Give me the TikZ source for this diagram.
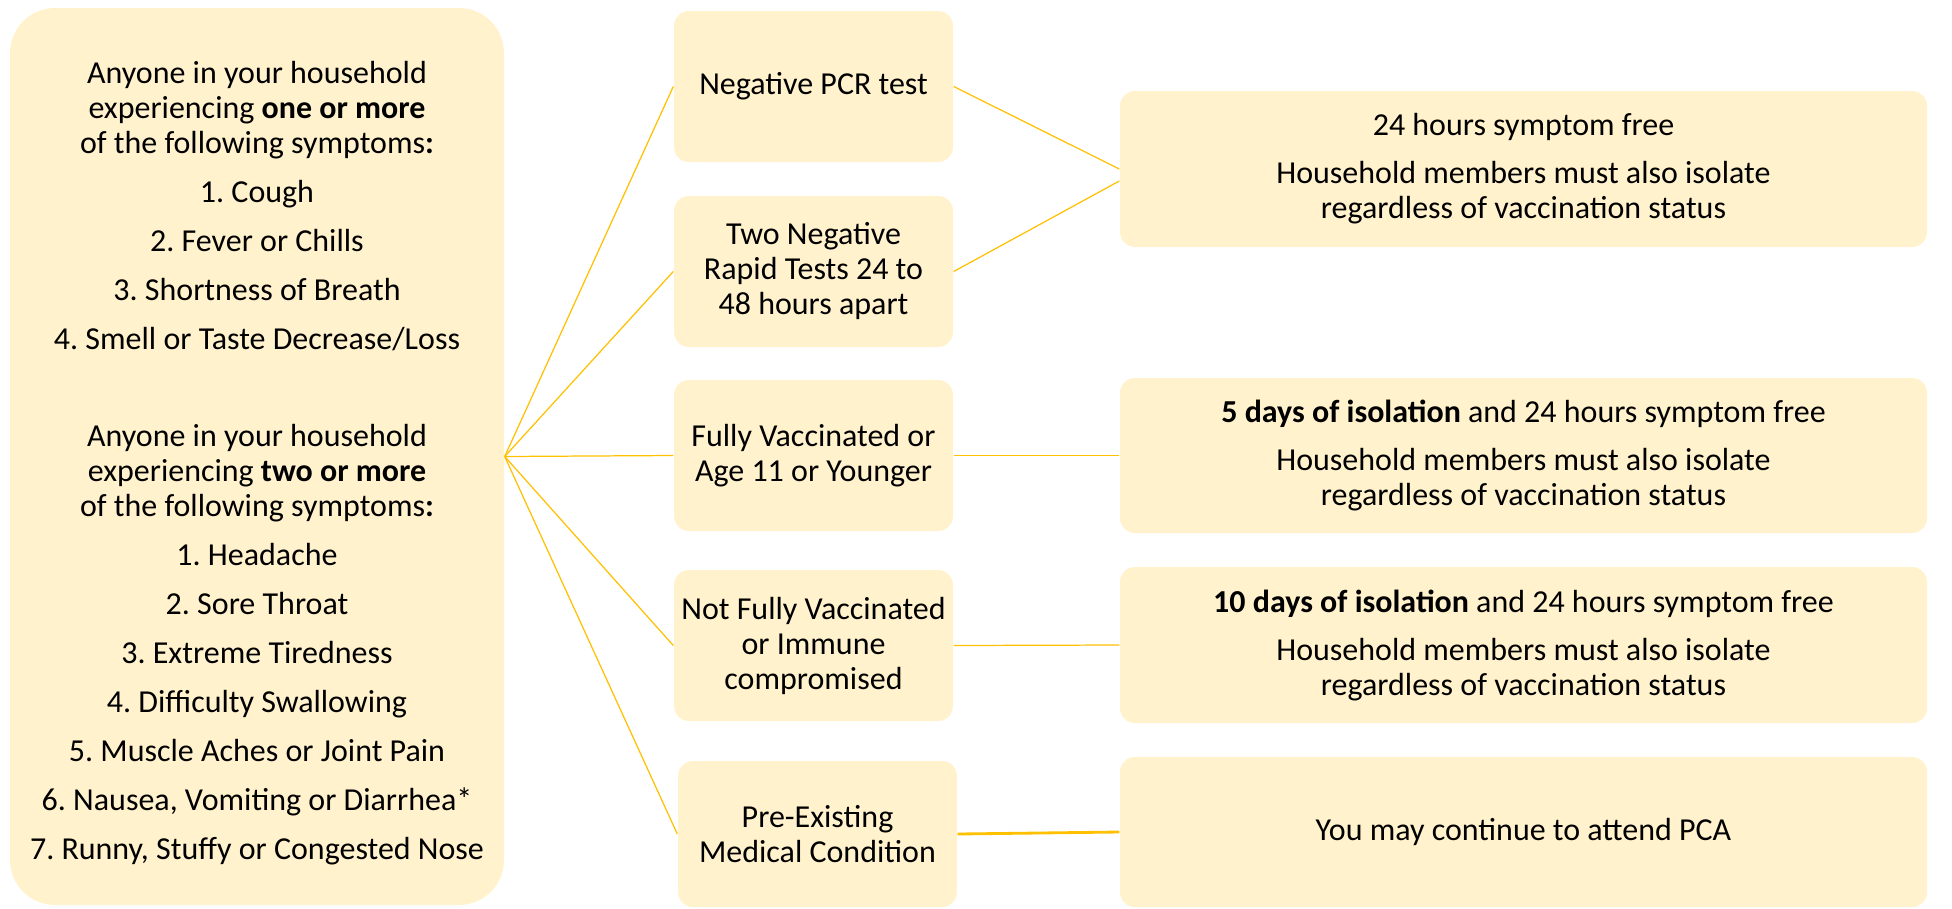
\documentclass[tikz,border=0pt]{standalone}
\usepackage{fontspec}
\setmainfont{Carlito}
\usetikzlibrary{positioning}
\definecolor{boxfill}{HTML}{FFF2CC}
\definecolor{linkgold}{HTML}{FFC000}
\frenchspacing

\begin{document}
\begin{tikzpicture}[
	every node/.style={font=\fontsize{9.1pt}{9.96pt}\selectfont},
	symptoms/.style={rectangle, fill=boxfill, rounded corners=0.45cm, minimum width=4.94cm, minimum height=8.97cm, inner sep=0pt},
	choice/.style={rectangle, fill=boxfill, rounded corners=0.15cm, minimum width=2.79cm, minimum height=1.51cm, inner sep=0pt, align=center},
	outcome/.style={rectangle, fill=boxfill, rounded corners=0.15cm, minimum width=8.07cm, minimum height=1.56cm, inner sep=0pt, align=center},
	fanline/.style={draw=linkgold, line width=0.35pt}
]
	\useasboundingbox (0,0) rectangle (19.52,9.08);

	% symptom list
	\node[symptoms] (symp) at (2.57,4.515) {};
	\node[align=center] (symptext) at (2.57,4.45) {Anyone in your household\\experiencing \textbf{one or more}\\of the following symptoms\textbf{:}\\[0.14cm]
		1. Cough\\[0.14cm]2. Fever or Chills\\[0.14cm]3. Shortness of Breath\\[0.14cm]4. Smell or Taste Decrease/Loss\\[0.62cm]
		Anyone in your household\\experiencing \textbf{two or more}\\of the following symptoms\textbf{:}\\[0.14cm]
		1. Headache\\[0.14cm]2. Sore Throat\\[0.14cm]3. Extreme Tiredness\\[0.14cm]4. Difficulty Swallowing\\[0.14cm]
		5. Muscle Aches or Joint Pain\\[0.14cm]6. Nausea, Vomiting or Diarrhea*\\[0.14cm]7. Runny, Stuffy or Congested Nose};

	% middle column
	\node[choice] (pcr) at (8.135,8.215) {Negative PCR test};
	\node[choice] (rapid) at (8.135,6.365) {Two Negative\\Rapid Tests 24 to\\48 hours apart};
	\node[choice] (vacc) at (8.135,4.525) {Fully Vaccinated or\\Age 11 or Younger};
	\node[choice] (notvacc) at (8.135,2.625) {Not Fully Vaccinated\\or Immune\\compromised};
	\node[choice, minimum height=1.46cm] (preex) at (8.175,0.74) {Pre-Existing\\Medical Condition};

	% right column
	\node[outcome] (free) at (15.235,7.39) {24 hours symptom free\\[0.13cm]Household members must also isolate\\regardless of vaccination status};
	\node[outcome, minimum height=1.55cm] (five) at (15.235,4.525) {\textbf{5 days of isolation} and 24 hours symptom free\\[0.13cm]Household members must also isolate\\regardless of vaccination status};
	\node[outcome] (ten) at (15.235,2.63) {\textbf{10 days of isolation} and 24 hours symptom free\\[0.13cm]Household members must also isolate\\regardless of vaccination status};
	\node[outcome, minimum height=1.50cm] (attend) at (15.235,0.76) {You may continue to attend PCA};

	\foreach \n in {pcr,rapid,vacc,notvacc,preex}
		\draw[fanline] (symp.east) -- (\n.west);

	\draw[fanline] (pcr.east) -- (free.west);
	\draw[fanline] (rapid.east) -- ([yshift=-0.12cm]free.west);
	\draw[fanline] (vacc.east) -- (five.west);
	\draw[fanline] (notvacc.east) -- (ten.west);
	\draw[fanline, line width=0.8pt] (preex.east) -- (attend.west);
\end{tikzpicture}
\end{document}
